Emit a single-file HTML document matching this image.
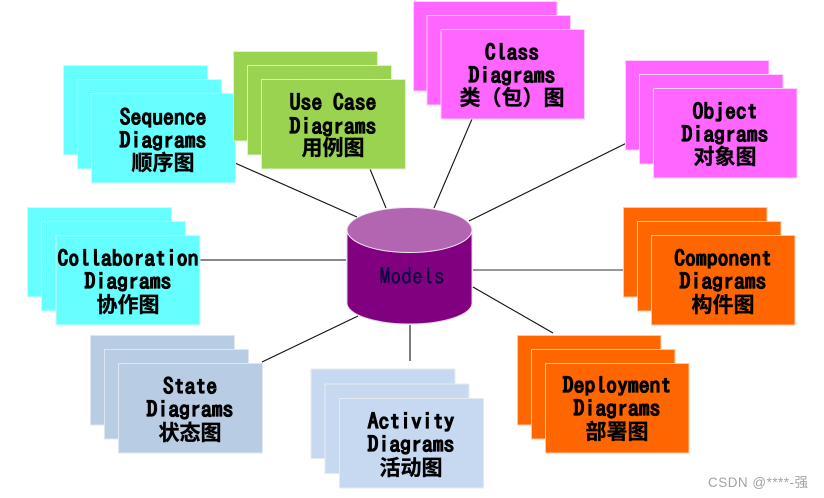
<!DOCTYPE html>
<html>
<head>
<meta charset="utf-8">
<style>
html,body{margin:0;padding:0;background:#fff;width:824px;height:498px;overflow:hidden}
svg{display:block}
.t{font-family:"IPAGothic","Liberation Mono",monospace;font-size:21.7px;font-weight:bold;fill:#000;stroke:#000;stroke-width:.55px;text-anchor:middle}
.c{font-family:"Noto Sans CJK SC","WenQuanYi Zen Hei",sans-serif;font-size:21px;font-weight:bold;fill:#000;stroke:#000;stroke-width:.3px;text-anchor:middle}
.l{stroke:#111;stroke-width:1.1;fill:none}
</style>
</head>
<body>
<svg width="824" height="498" viewBox="0 0 824 498" xmlns="http://www.w3.org/2000/svg">
<rect width="824" height="498" fill="#fff"/>
<g class="l">
<line x1="235" y1="163" x2="357" y2="217"/>
<line x1="370" y1="169" x2="386" y2="208"/>
<line x1="472" y1="119" x2="434" y2="208"/>
<line x1="653" y1="130" x2="469" y2="221"/>
<line x1="200" y1="260" x2="346" y2="260"/>
<line x1="473" y1="270" x2="651" y2="270" stroke="#777" stroke-width="1.6"/>
<line x1="473" y1="287" x2="553" y2="333"/>
<line x1="262" y1="362" x2="358" y2="316"/>
<line x1="410" y1="325" x2="410" y2="361"/>
</g>

<g fill="#66ffff" stroke="#d8f4f4" stroke-width="1">
<rect x="63.5" y="65.5" width="144" height="89.5"/><rect x="77.5" y="79.5" width="144" height="89.5"/><rect x="91.5" y="93.5" width="144" height="89.5"/>
</g>
<text class="t" x="163" y="125">Sequence</text><text class="t" x="163" y="148">Diagrams</text><text class="c" x="163" y="170">顺序图</text>

<g fill="#99d34f" stroke="#e4efd0" stroke-width="1">
<rect x="233.5" y="51.5" width="144" height="89.5"/><rect x="247.5" y="65.5" width="144" height="89.5"/><rect x="261.5" y="79.5" width="144" height="89.5"/>
</g>
<text class="t" x="333" y="110">Use Case</text><text class="t" x="333" y="134">Diagrams</text><text class="c" x="333" y="155">用例图</text>

<g fill="#ff66ff" stroke="#fbd0fb" stroke-width="1">
<rect x="413.5" y="1.5" width="143.5" height="89.5"/><rect x="427" y="15.5" width="143.5" height="89.5"/><rect x="441" y="29.5" width="143.5" height="89.5"/>
</g>
<text class="t" x="512" y="60">Class</text><text class="t" x="512" y="83">Diagrams</text><text class="c" x="512" y="105">类（包）图</text>

<g fill="#ff66ff" stroke="#fbd0fb" stroke-width="1">
<rect x="625.5" y="60.5" width="143.5" height="89.5"/><rect x="639.5" y="74.5" width="143.5" height="89.5"/><rect x="653.5" y="88.5" width="143.5" height="89.5"/>
</g>
<text class="t" x="725" y="119">Object</text><text class="t" x="725" y="142">Diagrams</text><text class="c" x="725" y="164">对象图</text>

<g fill="#66ffff" stroke="#d8f4f4" stroke-width="1">
<rect x="27.5" y="207.5" width="144" height="89.5"/><rect x="41.5" y="221.5" width="144" height="89.5"/><rect x="56" y="235.5" width="144" height="89.5"/>
</g>
<text class="t" x="128" y="266">Collaboration</text><text class="t" x="128" y="289">Diagrams</text><text class="c" x="128" y="312">协作图</text>

<g fill="#ff6600" stroke="#fbc9a8" stroke-width="1">
<rect x="623.5" y="207.5" width="143.5" height="89.5"/><rect x="637.5" y="221.5" width="143.5" height="89.5"/><rect x="651.5" y="235.5" width="143.5" height="89.5"/>
</g>
<text class="t" x="723" y="266">Component</text><text class="t" x="723" y="289">Diagrams</text><text class="c" x="723" y="312">构件图</text>

<g fill="#b8cce4" stroke="#e0e6ee" stroke-width="1">
<rect x="90.5" y="335.5" width="144" height="89.5"/><rect x="104.5" y="349.5" width="144" height="89.5"/><rect x="118.5" y="363.5" width="144" height="89.5"/>
</g>
<text class="t" x="190" y="394">State</text><text class="t" x="190" y="417">Diagrams</text><text class="c" x="190" y="440">状态图</text>

<g fill="#c6d9f1" stroke="#e6eaee" stroke-width="1">
<rect x="311" y="369" width="144" height="89.5"/><rect x="325" y="384" width="144" height="89.5"/><rect x="339.5" y="398.5" width="144" height="89.5"/>
</g>
<text class="t" x="411" y="429">Activity</text><text class="t" x="411" y="452">Diagrams</text><text class="c" x="411" y="475">活动图</text>

<g fill="#ff6600" stroke="#fbc9a8" stroke-width="1">
<rect x="517.5" y="335.5" width="143.5" height="89.5"/><rect x="531.5" y="349.5" width="143.5" height="89.5"/><rect x="545.5" y="363.5" width="143.5" height="89.5"/>
</g>
<text class="t" x="617" y="393">Deployment</text><text class="t" x="617" y="416">Diagrams</text><text class="c" x="617" y="439">部署图</text>

<path d="M347 229 V303 A62.5 21 0 0 0 472 303 V229 Z" fill="#800080" stroke="#e2d6e2" stroke-width="1"/>
<ellipse cx="409.5" cy="230" rx="62.5" ry="22.5" fill="#b266b2" stroke="#f0e8f0" stroke-width="1"/>
<text x="412" y="284" font-family="IPAGothic, Liberation Mono, monospace" font-size="21.7" fill="#05003a" stroke="#05003a" stroke-width=".2" text-anchor="middle">Models</text>

<text x="708" y="487" font-family="Liberation Sans, Noto Sans CJK SC, sans-serif" font-size="13.5" fill="#a3a3a3" textLength="100" lengthAdjust="spacing">CSDN @****-强</text>
</svg>
</body>
</html>
